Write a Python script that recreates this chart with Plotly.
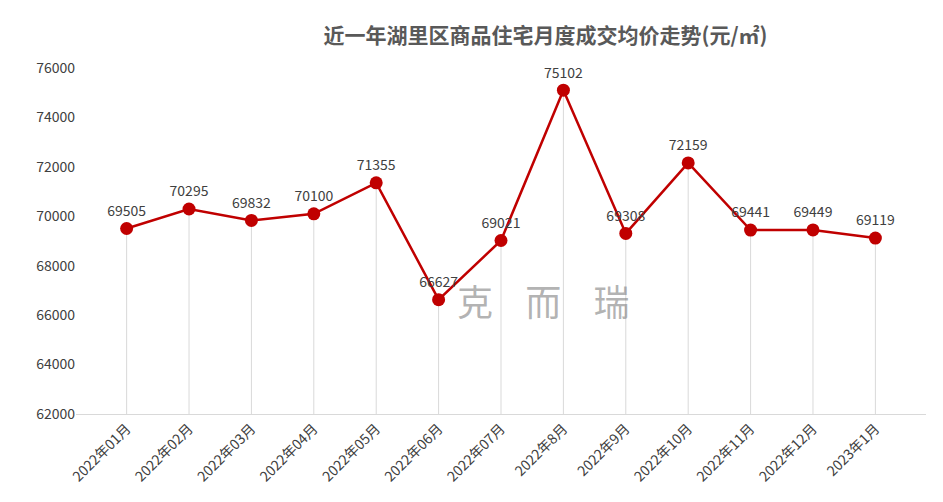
import plotly.graph_objects as go

months = ["2022年01月", "2022年02月", "2022年03月", "2022年04月", "2022年05月", "2022年06月",
          "2022年07月", "2022年8月", "2022年9月", "2022年10月", "2022年11月", "2022年12月", "2023年1月"]
prices = [69505, 70295, 69832, 70100, 71355, 66627, 69021, 75102, 69308, 72159, 69441, 69449, 69119]

fig = go.Figure()

# drop lines from each point to the axis
for m, p in zip(months, prices):
    fig.add_trace(go.Scatter(x=[m, m], y=[62000, p], mode="lines",
                             line=dict(color="#d9d9d9", width=1),
                             hoverinfo="skip", showlegend=False))

fig.add_trace(go.Scatter(
    x=months, y=prices, mode="lines+markers+text",
    line=dict(color="#c00000", width=2.5),
    marker=dict(color="#c00000", size=13),
    text=[str(p) for p in prices], textposition="top center",
    textfont=dict(size=14, color="#404040"),
    showlegend=False))

# watermark
fig.add_annotation(text="克    而    瑞", x=0.55, y=0.25, xref="paper", yref="paper",
                   showarrow=False, font=dict(size=36, color="rgba(128,128,128,0.6)"))

fig.update_layout(
    width=943, height=502,
    margin=dict(l=68, r=25, t=60, b=96),
    paper_bgcolor="white", plot_bgcolor="white",
    font=dict(family="Noto Sans CJK SC", color="#404040"),
    title=dict(text="<b>近一年湖里区商品住宅月度成交均价走势(元/㎡)</b>", x=0.57, y=0.96,
               font=dict(size=21, color="#595959")),
)
fig.update_xaxes(tickangle=-45, tickfont=dict(size=14), showgrid=False,
                 showline=True, linecolor="#d9d9d9", ticks="")
fig.update_yaxes(range=[62000, 76000], dtick=2000, showgrid=False, tickformat="d",
                 tickfont=dict(size=14), zeroline=False)

fig.write_html("out.html")
